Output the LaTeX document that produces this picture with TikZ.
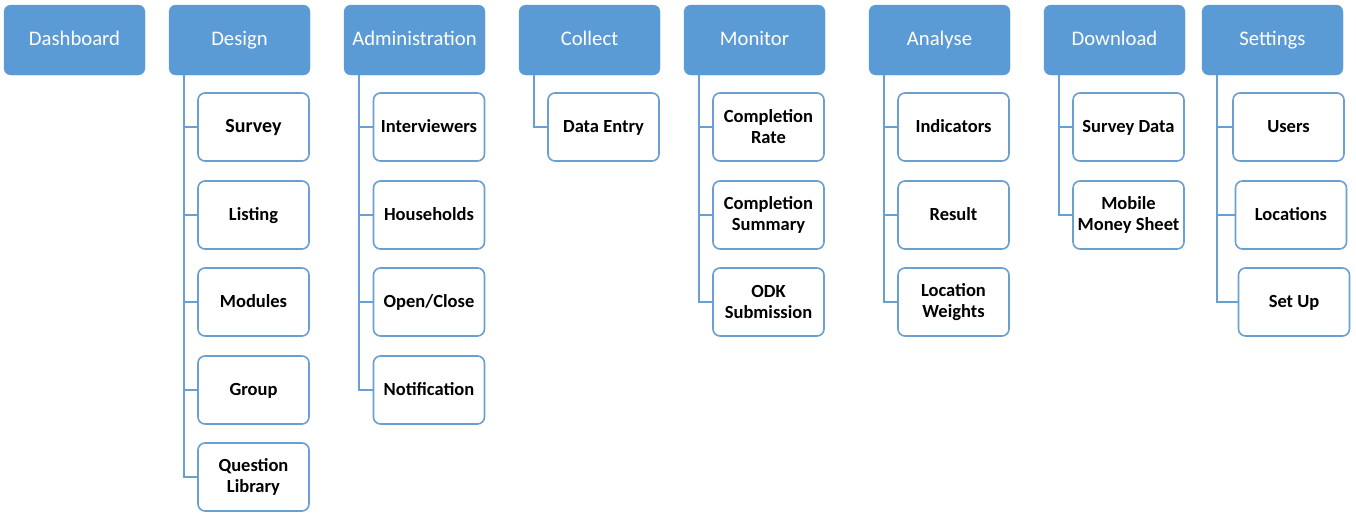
\documentclass[tikz,border=0pt]{standalone}
\usepackage{fontspec}
\setmainfont{Carlito}
\definecolor{hblue}{HTML}{5B9BD5}
\definecolor{lblue}{HTML}{6A9FD2}
\begin{document}
\begin{tikzpicture}[x=1pt,y=1pt,
  hdr/.style={draw=hblue,fill=hblue,rounded corners=7pt,minimum width=141pt,minimum height=70pt,
    text=white,font=\fontsize{20.7}{24}\selectfont,inner sep=0pt,text height=1.28em,text depth=0.2em},
  child/.style={draw=lblue,line width=1.6pt,fill=white,rounded corners=7pt,minimum width=111pt,minimum height=68pt,
    font=\bfseries\fontsize{18.5}{21}\selectfont,align=center,inner sep=0pt},
  one/.style={child,text height=1.2em,text depth=0.2em},
  conn/.style={draw=lblue,line width=1.8pt}]
\useasboundingbox (0,0) rectangle (1356,-520);
% headers
\node[hdr] (dash) at (74.5,-40) {Dashboard};
\node[hdr] (des) at (239.5,-40) {Design};
\node[hdr] (adm) at (414.5,-40) {Administration};
\node[hdr] (col) at (589.5,-40) {Collect};
\node[hdr] (mon) at (754.5,-40) {Monitor};
\node[hdr] (ana) at (939.5,-40) {Analyse};
\node[hdr] (dow) at (1114.5,-40) {Download};
\node[hdr] (set) at (1272.5,-40) {Settings};
% children
\node[one,font=\bfseries\fontsize{20}{22}\selectfont] (d1) at (253.5,-127) {Survey};
\node[one] (d2) at (253.5,-215) {Listing};
\node[one] (d3) at (253.5,-302) {Modules};
\node[one] (d4) at (253.5,-390) {Group};
\node[child] (d5) at (253.5,-477) {Question\\Library};
\node[one] (a1) at (429,-127) {Interviewers};
\node[one] (a2) at (429,-215) {Households};
\node[one] (a3) at (429,-302) {Open/Close};
\node[one] (a4) at (429,-390) {Notification};
\node[one] (c1) at (603.5,-127) {Data Entry};
\node[child] (m1) at (768.5,-127) {Completion\\Rate};
\node[child] (m2) at (768.5,-215) {Completion\\Summary};
\node[child] (m3) at (768.5,-302) {ODK\\Submission};
\node[one] (n1) at (953.5,-127) {Indicators};
\node[one] (n2) at (953.5,-215) {Result};
\node[child] (n3) at (953.5,-302) {Location\\Weights};
\node[one] (w1) at (1128.5,-127) {Survey Data};
\node[child] (w2) at (1128.5,-215) {Mobile\\Money Sheet};
\node[one] (s1) at (1288.5,-127) {Users};
\node[one] (s2) at (1291,-215) {Locations};
\node[one] (s3) at (1294,-302) {Set Up};
% connectors
\foreach \h/\c in {des/d1,des/d2,des/d3,des/d4,des/d5,adm/a1,adm/a2,adm/a3,adm/a4,col/c1,
  mon/m1,mon/m2,mon/m3,ana/n1,ana/n2,ana/n3,dow/w1,dow/w2,set/s1,set/s2,set/s3}
  \draw[conn] ([xshift=15pt]\h.south west) |- (\c.west);
\end{tikzpicture}
\end{document}
